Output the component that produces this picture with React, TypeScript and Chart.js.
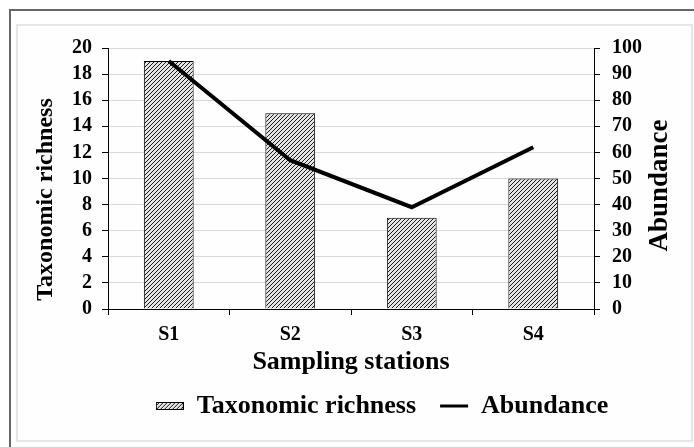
import React, { useEffect, useRef } from "react";
import { Chart, registerables } from "chart.js";

Chart.register(...registerables);

const categories = ["S1", "S2", "S3", "S4"];
const richness = [19, 15, 7, 10];
const abundance = [95, 57, 39, 62];
const richnessTicks = { min: 0, max: 20, step: 2 };
const abundanceTicks = { min: 0, max: 100, step: 10 };
const leftTitle = "Taxonomic richness";
const rightTitle = "Abundance";
const xTitle = "Sampling stations";

const FONT = "'Liberation Serif', 'Times New Roman', serif";

function makeHatch(): CanvasPattern | string {
  const c = document.createElement("canvas");
  c.width = 4;
  c.height = 4;
  const ctx = c.getContext("2d");
  if (!ctx) return "#999";
  ctx.fillStyle = "#e4e4e4";
  ctx.fillRect(0, 0, 4, 4);
  ctx.strokeStyle = "#1a1a1a";
  ctx.lineWidth = 1;
  ctx.beginPath();
  ctx.moveTo(0, 4);
  ctx.lineTo(4, 0);
  ctx.moveTo(-1, 1);
  ctx.lineTo(1, -1);
  ctx.moveTo(3, 5);
  ctx.lineTo(5, 3);
  ctx.stroke();
  const p = ctx.createPattern(c, "repeat");
  return p || "#999";
}

function makeLegendBox(pattern: CanvasPattern | string): HTMLCanvasElement {
  const c = document.createElement("canvas");
  c.width = 28;
  c.height = 8;
  const ctx = c.getContext("2d");
  if (ctx) {
    ctx.fillStyle = pattern as any;
    ctx.fillRect(0, 0, 28, 8);
    ctx.strokeStyle = "#000";
    ctx.lineWidth = 1;
    ctx.strokeRect(0.5, 0.5, 27, 7);
  }
  return c;
}

const framePlugin = {
  id: "frame",
  beforeDraw(chart: any) {
    const ctx = chart.ctx;
    ctx.save();
    ctx.fillStyle = "#ffffff";
    ctx.fillRect(0, 0, chart.width, chart.height);
    ctx.strokeStyle = "#666";
    ctx.lineWidth = 2;
    ctx.beginPath();
    ctx.moveTo(10, chart.height + 5);
    ctx.lineTo(10, 10);
    ctx.lineTo(chart.width + 5, 10);
    ctx.stroke();
    ctx.fillStyle = "#fefefe";
    ctx.fillRect(17, 25, 675, 416);
    ctx.strokeStyle = "#e6e6e6";
    ctx.lineWidth = 2;
    ctx.strokeRect(17, 25, 675, 416);
    ctx.restore();
  },
};

const yTitlesPlugin = {
  id: "yTitles",
  afterDraw(chart: any) {
    const ctx = chart.ctx;
    const area = chart.chartArea;
    const mid = (area.top + area.bottom) / 2;
    const draw = (text: string, x: number, y: number, size: number) => {
      ctx.save();
      ctx.translate(x, y);
      ctx.rotate(-Math.PI / 2);
      ctx.font = `bold ${size}px ${FONT}`;
      ctx.fillStyle = "#000";
      ctx.textAlign = "center";
      ctx.textBaseline = "middle";
      ctx.fillText(text, 0, 0);
      ctx.restore();
    };
    draw(leftTitle, area.left - 62, mid + 21, 24);
    draw(rightTitle, area.right + 66, mid + 7, 27);
  },
};

export default function App() {
  const ref = useRef<HTMLCanvasElement | null>(null);

  useEffect(() => {
    if (!ref.current) return;
    const hatch = makeHatch();
    const legendImg = makeLegendBox(hatch);
    const chart = new Chart(ref.current, {
      type: "bar",
      data: {
        labels: categories,
        datasets: [
          {
            type: "bar",
            label: "Taxonomic richness",
            data: richness,
            backgroundColor: hatch as any,
            borderColor: "#000",
            borderWidth: 1,
            barPercentage: 0.41,
            categoryPercentage: 1,
            yAxisID: "y",
            order: 2,
          } as any,
          {
            type: "line",
            label: "Abundance",
            data: abundance,
            borderColor: "#000",
            backgroundColor: "#000",
            borderWidth: 4,
            pointRadius: 0,
            tension: 0,
            yAxisID: "y1",
            order: 1,
          } as any,
        ],
      },
      options: {
        responsive: false,
        animation: false,
        layout: { padding: { left: 32, right: -38, top: 48, bottom: 18 } },
        plugins: {
          tooltip: { enabled: false },
          legend: {
            position: "bottom",
            labels: {
              usePointStyle: true,
              pointStyleWidth: 28,
              padding: 24,
              color: "#000",
              font: { family: FONT, size: 26, weight: "bold" },
              generateLabels(ch: any) {
                const items = Chart.defaults.plugins.legend.labels.generateLabels(ch);
                items.sort((a: any, b: any) => a.datasetIndex - b.datasetIndex);
                items.forEach((it: any) => {
                  if (it.datasetIndex === 0) {
                    it.pointStyle = legendImg;
                  } else {
                    it.pointStyle = "line";
                    it.lineWidth = 3;
                    it.strokeStyle = "#000";
                  }
                });
                return items;
              },
            },
          },
        },
        scales: {
          x: {
            offset: true,
            grid: {
              offset: true,
              drawOnChartArea: false,
              tickColor: "#000",
              tickLength: 6,
            },
            border: { color: "#000", width: 1 },
            ticks: {
              color: "#000",
              padding: 8,
              font: { family: FONT, size: 20, weight: "bold" },
            },
            title: {
              display: true,
              text: xTitle,
              color: "#000",
              padding: { top: 0, bottom: -9 },
              font: { family: FONT, size: 26, weight: "bold" },
            },
            afterFit(axis: any) {
              axis.height = 60;
            },
          },
          y: {
            position: "left",
            min: richnessTicks.min,
            max: richnessTicks.max,
            grid: { color: "#d9d9d9", tickColor: "#000", tickLength: 6 },
            border: { color: "#000", width: 1 },
            ticks: {
              stepSize: richnessTicks.step,
              autoSkip: false,
              color: "#000",
              padding: 10,
              font: { family: FONT, size: 20, weight: "bold" },
            },
            afterFit(axis: any) {
              axis.width = 76;
            },
          },
          y1: {
            position: "right",
            min: abundanceTicks.min,
            max: abundanceTicks.max,
            grid: { drawOnChartArea: false, tickColor: "#000", tickLength: 6 },
            border: { color: "#000", width: 1 },
            ticks: {
              stepSize: abundanceTicks.step,
              autoSkip: false,
              color: "#000",
              padding: 12,
              font: { family: FONT, size: 20, weight: "bold" },
            },
            afterFit(axis: any) {
              axis.width = 138;
            },
          },
        },
      } as any,
      plugins: [framePlugin, yTitlesPlugin],
    });
    return () => chart.destroy();
  }, []);

  return (
    <div style={{ position: "absolute", left: 0, top: 0, width: 694, height: 447 }}>
      <canvas ref={ref} width={694} height={447} />
    </div>
  );
}
